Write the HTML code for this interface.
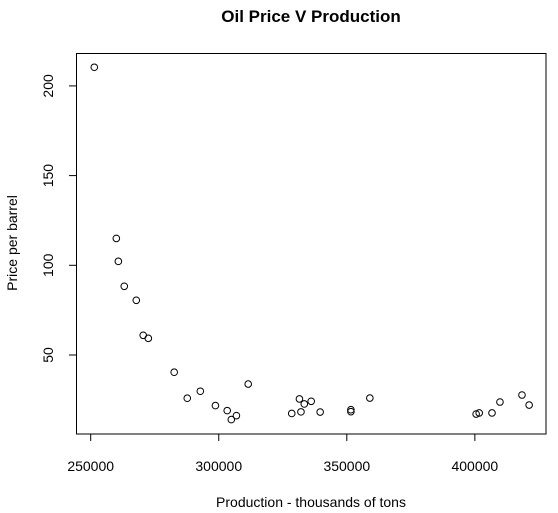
<!DOCTYPE html>
<html><head><meta charset="utf-8"><style>
html,body{margin:0;padding:0;background:#fff;width:558px;height:513px;overflow:hidden}
svg text{font-family:"Liberation Sans",Arial,sans-serif;fill:#000}
</style></head><body>
<svg id="chart" width="558" height="513">
<text x="311" y="22" font-size="17" font-weight="bold" text-anchor="middle">Oil Price V Production</text>
<rect x="76.5" y="53.5" width="469.5" height="380.5" fill="none" stroke="#000"/>
<text x="311" y="507" font-size="14" text-anchor="middle">Production - thousands of tons</text>
<text transform="translate(17,243) rotate(-90)" font-size="14" text-anchor="middle">Price per barrel</text>
<g id="xaxis"></g><g id="yaxis"></g><g id="points"></g>
</svg>
<script>
const xTicks=[250000,300000,350000,400000];
const yTicks=[50,100,150,200];
const production=[251400,260000,260800,263100,267800,270500,272500,282600,287700,292800,298700,303300,304900,306900,311500,328500,332100,331500,333400,336100,339600,351600,351600,359000,400500,401700,406700,409800,418400,421200];
const price=[210.4,115,102.2,88.3,80.5,61,59.3,40.4,25.9,29.8,21.8,19,14,16.2,33.8,17.4,18.3,25.5,22.7,24.2,18.2,19.5,18.4,26,17.1,17.7,17.7,23.8,27.7,22.1];
const NS='http://www.w3.org/2000/svg';
function sx(v){return 90.7+(v-250000)*0.002561;}
function sy(v){return 355-(v-50)*1.794;}
function mk(t,a){const e=document.createElementNS(NS,t);for(const k in a)e.setAttribute(k,a[k]);return e;}
const xa=document.getElementById('xaxis'),ya=document.getElementById('yaxis'),pg=document.getElementById('points');
xa.appendChild(mk('line',{x1:sx(xTicks[0]),x2:sx(xTicks[xTicks.length-1]),y1:434,y2:434,stroke:'#000'}));
xTicks.forEach(t=>{
 const l=mk('line',{x1:sx(t),x2:sx(t),y1:434,y2:441,stroke:'#000'});
 
 
 xa.appendChild(l);
 const tx=mk('text',{x:sx(t),y:471,'font-size':14,'text-anchor':'middle'});
 tx.textContent=t;
 
 
 xa.appendChild(tx);
});
ya.appendChild(mk('line',{x1:76.5,x2:76.5,y1:sy(yTicks[0]),y2:sy(yTicks[yTicks.length-1]),stroke:'#000'}));
yTicks.forEach(t=>{
 const l=mk('line',{x1:69,x2:76.5,y1:sy(t),y2:sy(t),stroke:'#000'});
 
 
 ya.appendChild(l);
 const tx=mk('text',{transform:'translate(53,'+sy(t)+') rotate(-90)','font-size':14,'text-anchor':'middle'});
 tx.textContent=t;
 
 
 ya.appendChild(tx);
});
production.forEach((p,i)=>{
 const c=mk('circle',{cx:sx(p),cy:sy(price[i]),r:3.3,fill:'none',stroke:'#000','stroke-width':1});
 
 
 pg.appendChild(c);
});
</script>
</body></html>
